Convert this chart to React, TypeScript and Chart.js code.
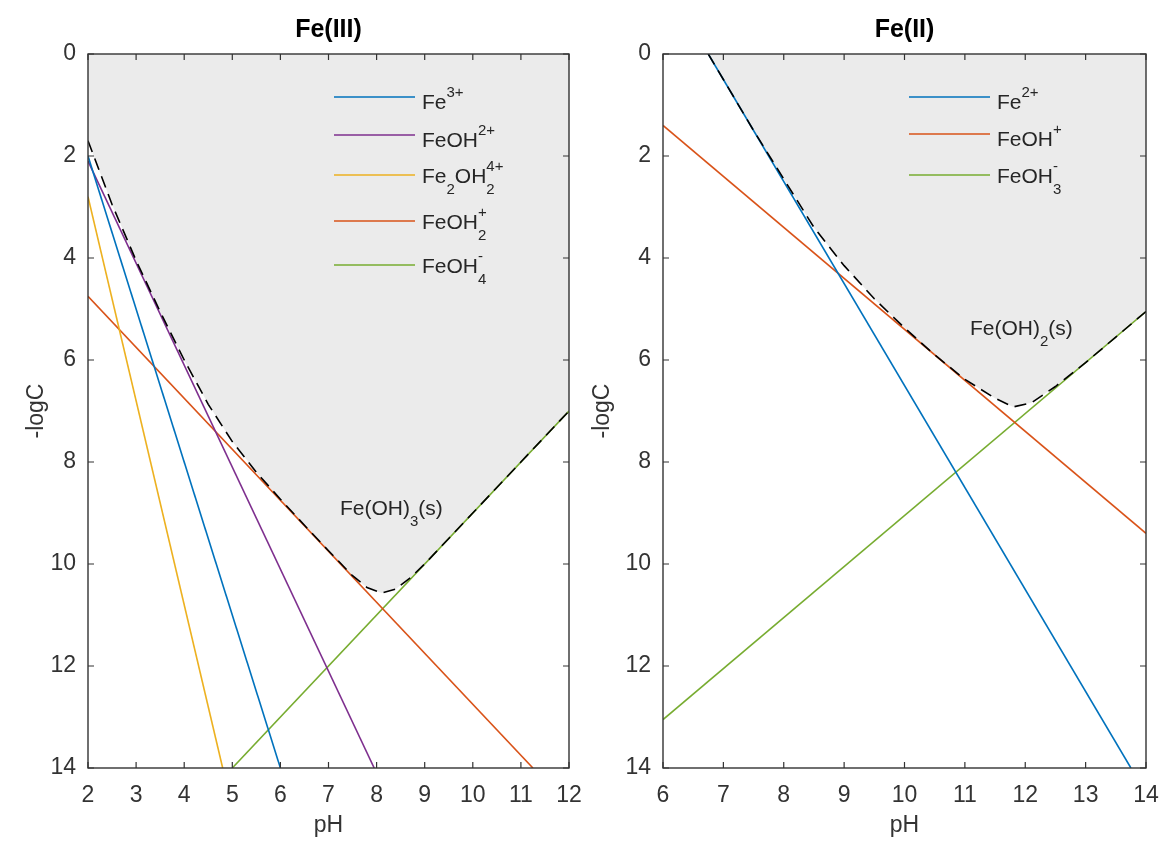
import React, { useEffect, useRef } from 'react';
import { Chart, registerables } from 'chart.js';

Chart.register(...registerables);

const FONT = '"Liberation Sans", Arial, Helvetica, sans-serif';
const AXIS_COLOR = '#333333';
const FILL_COLOR = '#ebebeb';

// ---------- Fe(III) panel data ----------
const fe3Species = ['Fe^{3+}', 'FeOH^{2+}', 'Fe_2OH_2^{4+}', 'FeOH_2^+', 'FeOH_4^-'];
const fe3Colors = ['#0072BD', '#7E2F8E', '#EDB120', '#D95319', '#77AC30'];
// each species line: [pH start, pH end] and [-logC start, -logC end]
const fe3LinePH = [[2, 6], [2, 7.95], [2, 4.8], [2, 11.25], [5, 12]];
const fe3LineLogC = [[2, 14], [2.1, 14], [2.8, 14], [4.75, 14], [14, 7]];
const fe3TotalPH = [2, 2.5, 3, 3.5, 4, 4.5, 5, 5.5, 6, 6.5, 7, 7.5, 7.8, 8.1, 8.4, 8.7, 9, 9.5, 10, 10.5, 11, 11.5, 12];
const fe3TotalLogC = [1.7, 2.95, 4.05, 5.05, 6.0, 6.87, 7.6, 8.2, 8.73, 9.24, 9.74, 10.23, 10.46, 10.57, 10.49, 10.27, 10.0, 9.5, 9.0, 8.5, 8.0, 7.5, 7.0];
const fe3XTicks = [2, 12];

// ---------- Fe(II) panel data ----------
const fe2Species = ['Fe^{2+}', 'FeOH^+', 'FeOH_3^-'];
const fe2Colors = ['#0072BD', '#D95319', '#77AC30'];
const fe2LinePH = [[6.75, 13.75], [6, 14], [6, 14]];
const fe2LineLogC = [[0, 14], [1.4, 9.4], [13.05, 5.05]];
const fe2TotalPH = [6.75, 7, 7.5, 8, 8.5, 9, 9.5, 10, 10.5, 11, 11.5, 11.8, 12.1, 12.5, 13, 13.5, 14];
const fe2TotalLogC = [0, 0.5, 1.5, 2.45, 3.4, 4.15, 4.8, 5.37, 5.9, 6.38, 6.75, 6.92, 6.84, 6.52, 6.05, 5.55, 5.05];
const fe2XTicks = [6, 14];

const yTicks = [0, 14];

// ---------- rich text (TeX-like sub/superscripts) ----------
type Seg = { t: string; k: 'n' | 'b' | 'p' };
function parseTex(s: string): Seg[] {
  const out: Seg[] = [];
  let i = 0;
  while (i < s.length) {
    const c = s[i];
    if (c === '_' || c === '^') {
      let t: string;
      if (s[i + 1] === '{') {
        const j = s.indexOf('}', i + 2);
        t = s.slice(i + 2, j);
        i = j + 1;
      } else {
        t = s[i + 1];
        i += 2;
      }
      out.push({ t, k: c === '_' ? 'b' : 'p' });
    } else {
      let j = i;
      while (j < s.length && s[j] !== '_' && s[j] !== '^') j++;
      out.push({ t: s.slice(i, j), k: 'n' });
      i = j;
    }
  }
  return out;
}

function drawRich(ctx: CanvasRenderingContext2D, s: string, x: number, y: number, base: number, small: number) {
  const segs = parseTex(s);
  let cx = x;
  let i = 0;
  const raise = Math.round(base * 0.58);
  const drop = Math.round(base * 0.5);
  ctx.textBaseline = 'alphabetic';
  ctx.textAlign = 'left';
  while (i < segs.length) {
    const sg = segs[i];
    if (sg.k === 'n') {
      ctx.font = `${base}px ${FONT}`;
      ctx.fillText(sg.t, cx, y);
      cx += ctx.measureText(sg.t).width;
      i++;
    } else {
      let w = 0;
      while (i < segs.length && segs[i].k !== 'n') {
        const g = segs[i];
        ctx.font = `${small}px ${FONT}`;
        ctx.fillText(g.t, cx, y + (g.k === 'b' ? drop : -raise));
        w = Math.max(w, ctx.measureText(g.t).width);
        i++;
      }
      cx += w;
    }
  }
}

type Panel = {
  title: string;
  species: string[];
  colors: string[];
  linePH: number[][];
  lineLogC: number[][];
  totalPH: number[];
  totalLogC: number[];
  xRange: number[];
  solid: string;
  canvasLeft: number;
  yAxisW: number;
  padRight: number;
  yLabelX: number;
  legendX1: number;
  legendX2: number;
  legendTextX: number;
  legendRows: number[];
  solidX: number;
  solidY: number;
};

const panels: Panel[] = [
  {
    title: 'Fe(III)',
    species: fe3Species,
    colors: fe3Colors,
    linePH: fe3LinePH,
    lineLogC: fe3LineLogC,
    totalPH: fe3TotalPH,
    totalLogC: fe3TotalLogC,
    xRange: fe3XTicks,
    solid: 'Fe(OH)_3(s)',
    canvasLeft: 0,
    yAxisW: 88,
    padRight: 13,
    yLabelX: 37,
    legendX1: 334,
    legendX2: 415,
    legendTextX: 422,
    legendRows: [97, 135, 175, 221, 265],
    solidX: 340,
    solidY: 515,
  },
  {
    title: 'Fe(II)',
    species: fe2Species,
    colors: fe2Colors,
    linePH: fe2LinePH,
    lineLogC: fe2LineLogC,
    totalPH: fe2TotalPH,
    totalLogC: fe2TotalLogC,
    xRange: fe2XTicks,
    solid: 'Fe(OH)_2(s)',
    canvasLeft: 582,
    yAxisW: 81,
    padRight: 18,
    yLabelX: 21,
    legendX1: 909 - 582,
    legendX2: 990 - 582,
    legendTextX: 997 - 582,
    legendRows: [97, 134, 175],
    solidX: 970 - 582,
    solidY: 335,
  },
];

function makePlugin(p: Panel) {
  return {
    id: 'frameAndText',
    afterDatasetsDraw(chart: any) {
      const { ctx, chartArea: a, scales } = chart;
      const L = 6;
      ctx.save();
      ctx.strokeStyle = AXIS_COLOR;
      ctx.lineWidth = 1.2;
      ctx.beginPath();
      scales.x.ticks.forEach((t: any) => {
        const px = scales.x.getPixelForValue(t.value);
        ctx.moveTo(px, a.bottom);
        ctx.lineTo(px, a.bottom - L);
        ctx.moveTo(px, a.top);
        ctx.lineTo(px, a.top + L);
      });
      scales.y.ticks.forEach((t: any) => {
        const py = scales.y.getPixelForValue(t.value);
        ctx.moveTo(a.left, py);
        ctx.lineTo(a.left + L, py);
        ctx.moveTo(a.right, py);
        ctx.lineTo(a.right - L, py);
      });
      ctx.stroke();
      ctx.lineWidth = 1.4;
      ctx.strokeRect(a.left, a.top, a.right - a.left, a.bottom - a.top);
      ctx.restore();
    },
    afterDraw(chart: any) {
      const { ctx, chartArea: a } = chart;
      ctx.save();
      const cx = (a.left + a.right) / 2;
      ctx.fillStyle = '#000';
      ctx.font = `bold 25px ${FONT}`;
      ctx.textAlign = 'center';
      ctx.textBaseline = 'middle';
      ctx.fillText(p.title, cx, 30);
      ctx.fillStyle = '#333';
      ctx.font = `23px ${FONT}`;
      ctx.fillText('pH', cx, 826);
      ctx.save();
      ctx.translate(p.yLabelX, (a.top + a.bottom) / 2);
      ctx.rotate(-Math.PI / 2);
      ctx.fillText('-logC', 0, 0);
      ctx.restore();
      p.species.forEach((s, i) => {
        const y = p.legendRows[i];
        ctx.strokeStyle = p.colors[i];
        ctx.lineWidth = 1.6;
        ctx.beginPath();
        ctx.moveTo(p.legendX1, y);
        ctx.lineTo(p.legendX2, y);
        ctx.stroke();
        ctx.fillStyle = '#262626';
        const off = s.includes('_') ? 8 : 12;
        drawRich(ctx, s, p.legendTextX, y + off, 21, 15);
      });
      ctx.fillStyle = '#262626';
      drawRich(ctx, p.solid, p.solidX, p.solidY, 21, 15);
      ctx.restore();
    },
  };
}

function buildConfig(p: Panel): any {
  const toPts = (xs: number[], ys: number[]) => xs.map((x, i) => ({ x, y: ys[i] }));
  const total = toPts(p.totalPH, p.totalLogC);
  const datasets: any[] = [
    {
      label: 'region',
      data: total,
      borderWidth: 0,
      borderColor: 'rgba(0,0,0,0)',
      backgroundColor: FILL_COLOR,
      pointRadius: 0,
      fill: { value: 0 },
      order: 10,
    },
  ];
  p.species.forEach((s, i) => {
    datasets.push({
      label: s,
      data: toPts(p.linePH[i], p.lineLogC[i]),
      borderColor: p.colors[i],
      borderWidth: 1.6,
      pointRadius: 0,
      fill: false,
      order: 5,
    });
  });
  datasets.push({
    label: 'total',
    data: total,
    borderColor: '#000',
    borderWidth: 1.6,
    borderDash: [12, 7],
    pointRadius: 0,
    fill: false,
    order: 0,
  });
  return {
    type: 'line',
    data: { datasets },
    options: {
      responsive: false,
      animation: false,
      devicePixelRatio: 1,
      layout: { padding: { left: 0, right: p.padRight, top: 54, bottom: 0 } },
      plugins: { legend: { display: false }, tooltip: { enabled: false }, title: { display: false } },
      elements: { line: { tension: 0 } },
      scales: {
        x: {
          type: 'linear',
          min: p.xRange[0],
          max: p.xRange[1],
          grid: { display: false, drawTicks: false },
          border: { display: false },
          ticks: { stepSize: 1, color: '#333', font: { size: 23, family: FONT }, padding: 14, maxRotation: 0, autoSkip: false },
          afterFit: (s: any) => {
            s.height = 82;
            s.paddingLeft = 0;
            s.paddingRight = 0;
          },
        },
        y: {
          type: 'linear',
          min: yTicks[0],
          max: yTicks[1],
          reverse: true,
          grid: { display: false, drawTicks: false },
          border: { display: false },
          ticks: { stepSize: 2, color: '#333', font: { size: 23, family: FONT }, padding: 12 },
          afterFit: (s: any) => {
            s.width = p.yAxisW;
            s.paddingTop = 0;
            s.paddingBottom = 0;
          },
        },
      },
    },
    plugins: [makePlugin(p)],
  };
}

function PanelChart({ p }: { p: Panel }) {
  const ref = useRef<HTMLCanvasElement | null>(null);
  useEffect(() => {
    if (!ref.current) return;
    const chart = new Chart(ref.current, buildConfig(p));
    return () => chart.destroy();
  }, [p]);
  return (
    <canvas
      ref={ref}
      width={582}
      height={850}
      style={{ position: 'absolute', left: p.canvasLeft, top: 0, width: 582, height: 850 }}
    />
  );
}

export default function App() {
  return (
    <div style={{ position: 'absolute', left: 0, top: 0, width: 1164, height: 850, background: '#fff' }}>
      {panels.map((p) => (
        <PanelChart key={p.title} p={p} />
      ))}
    </div>
  );
}
